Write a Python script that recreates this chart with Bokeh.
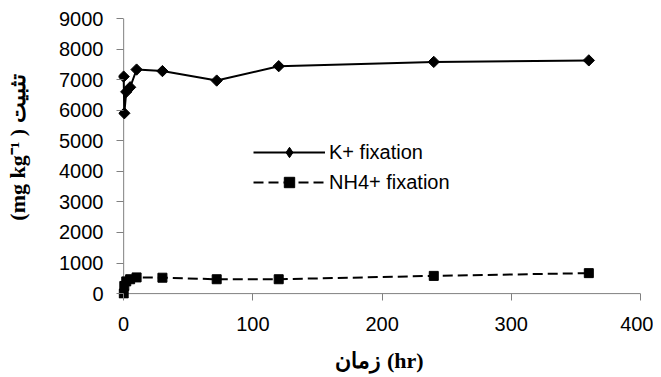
import numpy as np
from bokeh.plotting import figure
from bokeh.models import Range1d, Legend, LegendItem, FixedTicker, Span
from bokeh.embed import file_html
from bokeh.resources import INLINE

# ---- data ----
hours = [0, 0.5, 2, 5, 10, 30, 72, 120, 240, 360]
k_fix = [7100, 5900, 6600, 6750, 7330, 7280, 6970, 7440, 7580, 7630]
nh4_fix = [0, 250, 400, 470, 530, 520, 470, 470, 580, 670]
x_ticks = [0, 100, 200, 300, 400]
y_ticks = [0, 1000, 2000, 3000, 4000, 5000, 6000, 7000, 8000, 9000]
series_labels = ["K+ fixation", "NH4+ fixation"]
x_title = "زمان (hr)"
y_title = "\u00a0" * 4 + "(mg kg\u207b\u00b9 ) تثبیت"

# small margin below/left of zero so markers at 0 are not cut
p = figure(frame_width=522, frame_height=280,
           min_border_left=118, min_border_top=18,
           min_border_right=13, min_border_bottom=76,
           x_range=Range1d(-4, 400), y_range=Range1d(-160, 9000),
           output_backend="svg", toolbar_location=None)

p.xgrid.visible = False
p.ygrid.visible = False
p.outline_line_color = None
p.background_fill_color = "white"
p.border_fill_color = "white"

axis_col = "#808080"
# axis lines drawn at zero
p.add_layout(Span(location=0, dimension="height", line_color=axis_col,
                  line_width=1, level="underlay"))
p.add_layout(Span(location=0, dimension="width", line_color=axis_col,
                  line_width=1, level="underlay"))

for ax, ticks in ((p.xaxis, x_ticks), (p.yaxis, y_ticks)):
    ax.ticker = FixedTicker(ticks=ticks)
    ax.axis_line_color = None
    ax.major_tick_line_color = axis_col
    ax.major_tick_in = 5
    ax.major_tick_out = 2
    ax.minor_tick_line_color = None
    ax.major_label_text_font = "Liberation Sans"
    ax.major_label_text_font_size = "20px"
    ax.major_label_text_color = "black"

p.xaxis.major_label_standoff = 16
p.yaxis.major_label_standoff = 13

p.xaxis.axis_label = x_title
p.yaxis.axis_label = y_title
for ax in (p.xaxis, p.yaxis):
    ax.axis_label_text_font = "Liberation Serif"
    ax.axis_label_text_font_style = "bold"
    ax.axis_label_text_font_size = "22px"
    ax.axis_label_text_color = "black"
p.xaxis.axis_label_standoff = 14
p.yaxis.axis_label_standoff = 26

l1 = p.line(hours, k_fix, line_color="black", line_width=2)
s1 = p.scatter(hours, k_fix, marker="square", angle=np.pi / 4, size=8,
               fill_color="black", line_color="black")
l2 = p.line(hours, nh4_fix, line_color="black", line_width=2, line_dash="10 5")
s2 = p.scatter(hours, nh4_fix, marker="square", size=9,
               fill_color="black", line_color="black")
# diamond used only for the legend swatch (legend ignores marker angle)
d1 = p.scatter([np.nan], [np.nan], marker="diamond", size=10,
               fill_color="black", line_color="black")

legend = Legend(items=[LegendItem(label=series_labels[0], renderers=[l1, d1]),
                       LegendItem(label=series_labels[1], renderers=[l2, s2])],
                location=(135, 103), orientation="vertical",
                glyph_width=72, glyph_height=26, label_height=26,
                label_standoff=4, spacing=4, padding=0, margin=0,
                border_line_color=None, background_fill_alpha=0,
                label_text_font="Liberation Sans", label_text_font_size="20px",
                label_text_color="black")
p.add_layout(legend, "center")

open("out.html", "w").write(file_html(p, INLINE))
